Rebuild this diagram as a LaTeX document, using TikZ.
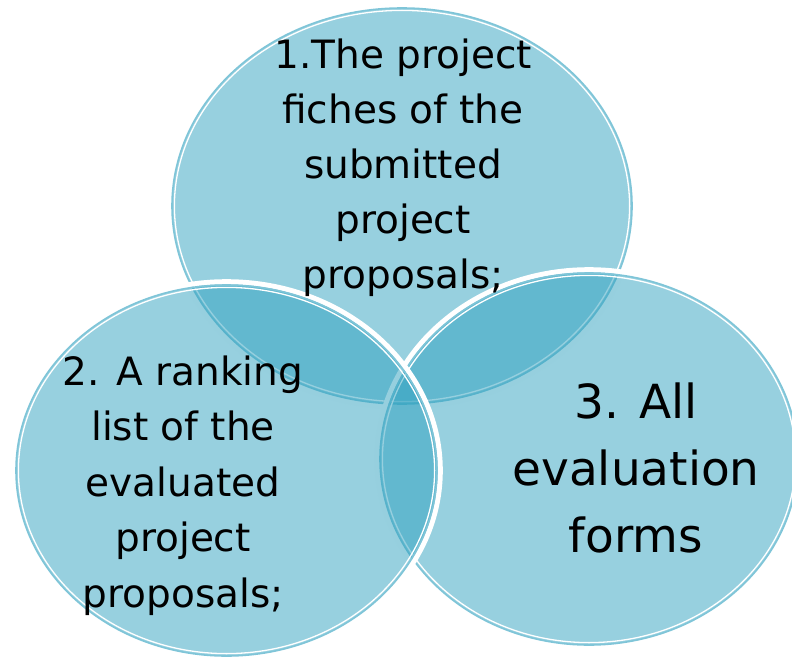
\documentclass[tikz,border=0pt]{standalone}
\usepackage{fontspec}
\setmainfont{DejaVu Sans}
\definecolor{vennfill}{HTML}{2FA1BF}
\definecolor{vennline}{HTML}{7FC5D8}
\tikzset{
  vennbody/.style={fill=vennfill, fill opacity=0.5, draw=none},
  vennouter/.style={draw=white, line width=5pt},
  vennblue/.style={draw=vennline, line width=1.6pt},
  venninner/.style={draw=white, line width=1.3pt},
  labeltext/.style={align=center, inner sep=0pt, anchor=base, text=black},
}
\newcommand{\venncircle}[4]{%
  \path[vennbody] (#1,#2) ellipse [x radius=#3pt, y radius=#4pt];
  \draw[vennouter] (#1,#2) ellipse [x radius=#3pt+3.3pt, y radius=#4pt+3.3pt];
  \draw[vennblue] (#1,#2) ellipse [x radius=#3pt, y radius=#4pt];
  \draw[venninner] (#1,#2) ellipse [x radius=#3pt-2.4pt, y radius=#4pt-2.4pt];
}
\begin{document}
\begin{tikzpicture}[x=1pt,y=-1pt]
\useasboundingbox (0,0) rectangle (792,658);
\clip (0,0) rectangle (792,658);
\venncircle{402}{206}{230}{198}
\venncircle{589}{459}{209}{186}
\venncircle{226.5}{470.5}{210.5}{185.5}
% anchor=base of a multi-line node is the baseline of its last line
\node[labeltext, font=\fontsize{39}{55}\selectfont] (t1) at (403,288)
  {1.The project\\fiches of the\\submitted\\project\\proposals;};
\node[labeltext, font=\fontsize{39}{55.5}\selectfont] (t2) at (183,607)
  {2. A ranking\\list of the\\evaluated\\project\\proposals;};
\node[labeltext, font=\fontsize{47}{67}\selectfont] (t3) at (636,552)
  {3. All\\evaluation\\forms};
\end{tikzpicture}
\end{document}
